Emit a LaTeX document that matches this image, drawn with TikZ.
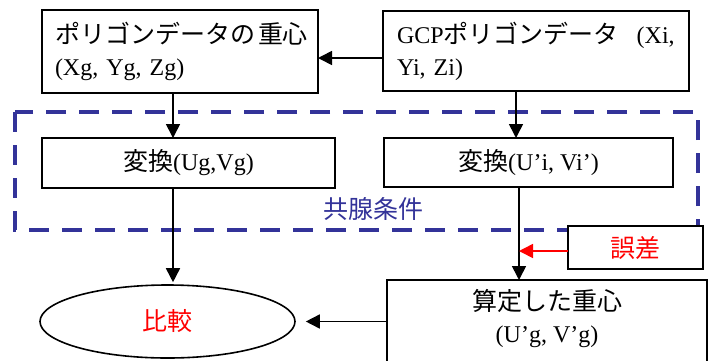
\documentclass[tikz,border=0pt]{standalone}
\usepackage{fontspec}
\setmainfont{Liberation Serif}
\newfontfamily\jp{Noto Sans CJK JP}
\newcommand\J[1]{{\jp\fontsize{25}{32}\selectfont #1}}
\usetikzlibrary{arrows.meta,shapes.geometric}
\definecolor{dblue}{RGB}{51,51,153}
\begin{document}
\begin{tikzpicture}[x=1pt,y=-1pt,
  every node/.style={font=\fontsize{24}{32}\selectfont},
  box/.style={draw, line width=1.6pt, fill=white, inner ysep=0pt, outer sep=0pt},
  arr/.style={line width=1.6pt, -{Triangle[length=14pt,width=14pt]}},
  redarr/.style={draw=red, line width=1.6pt, -{Triangle[length=14pt,width=14pt]}, red},
  dashbox/.style={draw=dblue, line width=3.5pt, dash pattern=on 20pt off 13pt}]
\useasboundingbox (0,0) rectangle (715,360);
\clip (0,0) rectangle (715,360);
\fill[white] (0,0) rectangle (715,360);
% dashed frame
\draw[dashbox] (15,112) rectangle (698,230);
\node[text=dblue] (lbl) at (373,209) {\J{共腺条件}};
% boxes
\node[box, anchor=north west, minimum width=276pt, minimum height=83pt, text width=250pt, inner xsep=13pt, align=left] (A) at (42,10) {\mbox{\J{ポリゴンデータの\hspace{3pt}重心}}\\\mbox{(Xg, Yg, Zg)}};
\node[box, anchor=north west, minimum width=306pt, minimum height=80pt, text width=278pt, inner xsep=14pt, align=left] (B) at (383,11) {\mbox{GCP\J{ポリゴンデータ}\hspace{18pt}(Xi,}\\\mbox{Yi, Zi)}};
\node[box, anchor=north west, minimum width=293pt, minimum height=50pt, inner xsep=0pt] (C) at (42,138) {\J{変換}(Ug,Vg)};
\node[box, anchor=north west, minimum width=289pt, minimum height=49pt, inner xsep=0pt] (D) at (384,138) {\J{変換}(U’i, Vi’)};
\node[draw, line width=1.6pt, ellipse, minimum width=255pt, minimum height=73pt, inner sep=0pt, text=red] (ell) at (167.5,321.5) {\J{比較}};
\node[box, anchor=north west, minimum width=135pt, minimum height=43pt, inner xsep=0pt, text=red] (err) at (568,226) {\J{誤差}};
\node[box, anchor=north west, minimum width=320pt, minimum height=110pt, inner xsep=0pt] (E) at (387,280) {};
\node[align=center, inner sep=0pt] (Et) at (547,319) {\J{算定した重心}\\(U’g, V’g)};
% connectors
\draw[arr] ([yshift=-7pt]B.west) coordinate (b1) -- (b1 -| A.east);
\draw[arr] ([xshift=-7pt]A.south) coordinate (a1) -- (a1 |- C.north);
\draw[arr] ([xshift=-20pt]B.south) coordinate (b2) -- (b2 |- D.north);
\draw[arr, shorten >=2pt] ([xshift=-15.5pt]C.south) coordinate (c1) -- (c1 |- ell.north);
\draw[arr] ([xshift=-9.5pt]D.south) coordinate (d1) -- (d1 |- E.north);
\draw[redarr] ([yshift=-3.5pt]err.west) coordinate (e1) -- (e1 -| d1);
\draw[arr] (E.west |- ell.east) -- ([xshift=10pt]ell.east);
\end{tikzpicture}
\end{document}
